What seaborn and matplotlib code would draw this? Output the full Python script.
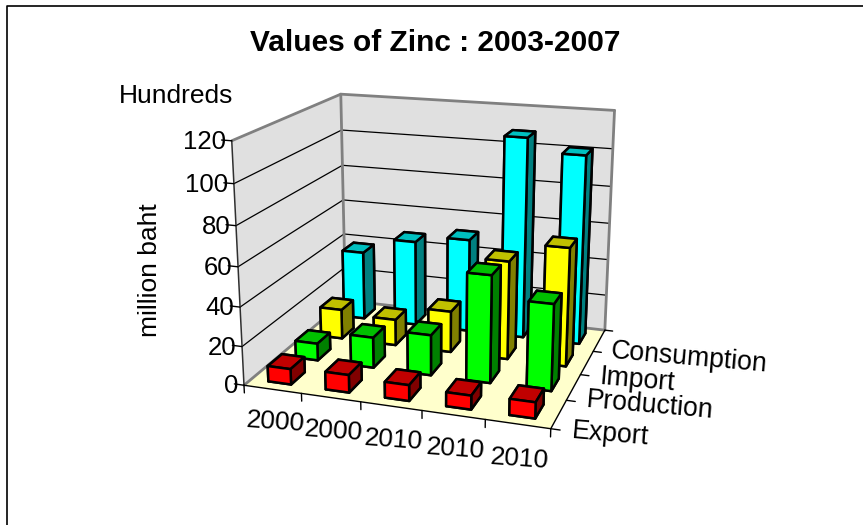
import matplotlib
matplotlib.use("Agg")
import matplotlib.pyplot as plt
import seaborn as sns
from matplotlib.lines import Line2D
from mpl_toolkits.mplot3d import proj3d

# data
years = ["2000", "2000", "2010", "2010", "2010"]
rows = ["Export", "Production", "Import", "Consumption"]
export = [8, 9, 8, 7, 8]
production = [9, 16, 21, 55, 44]
imports = [16, 14, 22, 52, 62]
consumption = [38, 47, 51, 108, 101]
z_ticks = [0, 20, 40, 60, 80, 100, 120]

front_cols = ["#ff0000", "#00ff00", "#ffff00", "#00ffff"]
top_cols = ["#c00000", "#00c000", "#c0c000", "#00c0c0"]
side_cols = ["#800000", "#008000", "#808000", "#008080"]

sns.set_theme(style="white")
plt.rcParams["font.family"] = ["Liberation Sans", "DejaVu Sans"]

fig = plt.figure(figsize=(8.63, 5.25), dpi=100)
ax = fig.add_axes([0.0445, -0.0395, 0.90, 1.12], projection="3d", computed_zorder=False)
ax.set_proj_type("persp", focal_length=0.38)
ax.view_init(elev=17, azim=-71.6)
ax.set_box_aspect((311, 263, 247), zoom=0.77)
ax.set_xlim(0, 5, view_margin=0)
ax.set_ylim(0, 4, view_margin=0)
ax.set_zlim(0, 120, view_margin=0)

# walls
ax.xaxis.set_pane_color("#e0e0e0")
ax.yaxis.set_pane_color("#e0e0e0")
ax.zaxis.set_pane_color("#ffffcc")
ax.grid(False)
ax.set_xticks([])
ax.set_yticks([])
ax.set_zticks([])
for a in (ax.xaxis, ax.yaxis, ax.zaxis):
    a.pane.set_edgecolor("none")
    a.line.set_color("none")

x0, x1 = ax.get_xlim()
y0, y1 = ax.get_ylim()
z0, z1 = ax.get_zlim()

# horizontal gridlines on the two walls
for z in z_ticks[1:-1]:
    ax.plot([x0, x0, x1], [y0, y1, y1], [z, z, z], color="black", linewidth=0.9, zorder=1)

# grey frame of the walls
for xs, ys, zs in [([x0, x0, x1], [y0, y1, y1], [z1, z1, z1]),
                   ([x0, x0], [y1, y1], [z0, z1]),
                   ([x1, x1], [y1, y1], [z0, z1]),
                   ([x0, x0, x1], [y0, y1, y1], [z0, z0, z0])]:
    ax.plot(xs, ys, zs, color="#808080", linewidth=2, zorder=2)

# axis lines and tick marks
ax.plot([x0, x0], [y0, y0], [z0, z1], color="#303030", linewidth=1.1, zorder=3)
ax.plot([x0, x1, x1], [y0, y0, y1], [z0, z0, z0], color="black", linewidth=1, zorder=3)
for z in z_ticks:
    ax.plot([x0 - 0.17, x0], [y0, y0], [z, z], color="black", linewidth=1, zorder=3)
for i in range(len(years) + 1):
    ax.plot([i, i], [y0, y0], [z0 - 4, z0], color="black", linewidth=1, zorder=3)
for r in range(len(rows) + 1):
    ax.plot([x1, x1 + 0.14], [r, r], [z0, z0], color="black", linewidth=1, zorder=3)

# bars, back row first
series = [export, production, imports, consumption]
bar_w = 0.4
bar_d = 0.5
for r in [3, 2, 1, 0]:
    for i, v in enumerate(series[r]):
        # face order of bar3d: -Z +Z -Y +Y -X +X
        cols = [side_cols[r], top_cols[r], front_cols[r], side_cols[r], side_cols[r], side_cols[r]]
        ax.bar3d(i + 0.5 - bar_w / 2, r + 0.5 - bar_d / 2, 0, bar_w, bar_d, v,
                 color=cols, shade=False, edgecolor="black", linewidth=1.8,
                 zorder=10 + (3 - r) * 10 + i, zsort="max")


# labels as plain 2D text placed through the 3D projection
def label3d(x, y, z, s, **kw):
    px, py, _ = proj3d.proj_transform(x, y, z, ax.get_proj())
    ax.text2D(px, py, s, transform=ax.transData, color="black", va="center", zorder=100, **kw)


for z in z_ticks:
    label3d(-0.1, 0, z - 1, str(z), fontsize=18.5, ha="right")
for i, y in enumerate(years):
    label3d(i + 0.53, 0, -17, y, fontsize=19, rotation=-4, ha="center")
for r, name in enumerate(rows):
    label3d(5.2, r + 0.5, -9, name, fontsize=19.2, rotation=-5, ha="left")

fig.text(0.504, 0.918, "Values of Zinc : 2003-2007", fontsize=21.5, fontweight="bold",
         ha="center", va="center", color="black")
fig.text(0.2035, 0.817, "Hundreds", fontsize=19, ha="center", va="center", color="black")
fig.text(0.174, 0.486, "million baht", fontsize=19, rotation=90, ha="center", va="center", color="black")

# chart frame
fig.add_artist(Line2D([0.0081, 0.0081, 1.0], [0.0, 0.989, 0.989], color="black", linewidth=1.2))

fig.savefig("out.png", dpi=100)
